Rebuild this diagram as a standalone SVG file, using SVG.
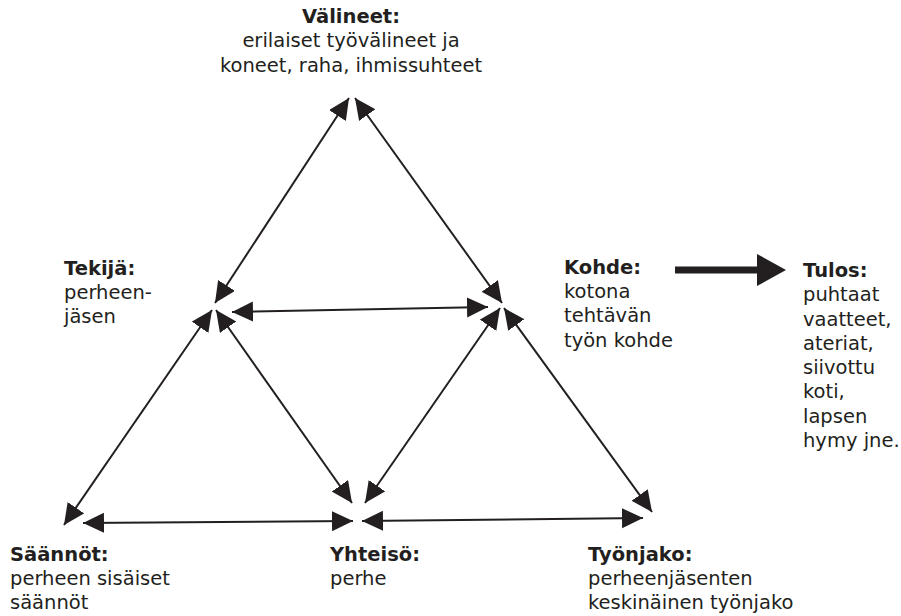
<svg xmlns="http://www.w3.org/2000/svg" width="901" height="616" viewBox="0 0 901 616">
<style>
text{font-family:"DejaVu Sans","Open Sans",sans-serif;font-size:19.5px;fill:#231f20}
.b{font-weight:bold}
.c{stroke:#231f20;stroke-width:2;fill:none;marker-start:url(#ah);marker-end:url(#ah)}
</style>
<defs>
<marker id="ah" markerUnits="userSpaceOnUse" markerWidth="24" markerHeight="22" refX="21" refY="10" orient="auto-start-reverse" viewBox="0 0 24 22">
<path d="M0,0 L21,10 L0,20 Z" fill="#231f20"/>
</marker>
</defs>
<rect width="901" height="616" fill="#fff"/>
<g id="connectors">
<line class="c" x1="215" y1="303" x2="349" y2="98"/>
<line class="c" x1="502" y1="303" x2="355" y2="98"/>
<line class="c" x1="232" y1="312" x2="488" y2="307"/>
<line class="c" x1="212" y1="310" x2="64" y2="525"/>
<line class="c" x1="216" y1="310" x2="352" y2="503"/>
<line class="c" x1="500" y1="308" x2="365" y2="503"/>
<line class="c" x1="504" y1="308" x2="652" y2="512"/>
<line class="c" x1="83" y1="523" x2="353" y2="521"/>
<line class="c" x1="362" y1="521" x2="643" y2="518"/>
<g id="tulos-arrow">
<line x1="675" y1="270" x2="760" y2="270" stroke="#231f20" stroke-width="7"/>
<polygon points="757,254 786,270 757,286" fill="#231f20"/>
</g>
</g>
<g id="valineet">
<text class="b" x="351" y="23" text-anchor="middle">Välineet:</text>
<text x="351" y="47" text-anchor="middle">erilaiset työvälineet ja</text>
<text x="351" y="72" text-anchor="middle">koneet, raha, ihmissuhteet</text>
</g>
<g id="tekija">
<text class="b" x="64" y="275">Tekijä:</text>
<text x="64" y="299">perheen-</text>
<text x="64" y="323">jäsen</text>
</g>
<g id="kohde">
<text class="b" x="564" y="274">Kohde:</text>
<text x="564" y="298">kotona</text>
<text x="564" y="322">tehtävän</text>
<text x="564" y="347">työn kohde</text>
</g>
<g id="tulos">
<text class="b" x="803" y="277">Tulos:</text>
<text x="803" y="301">puhtaat</text>
<text x="803" y="326">vaatteet,</text>
<text x="803" y="350">ateriat,</text>
<text x="803" y="374">siivottu</text>
<text x="803" y="398">koti,</text>
<text x="803" y="423">lapsen</text>
<text x="803" y="447">hymy jne.</text>
</g>
<g id="saannot">
<text class="b" x="10" y="561">Säännöt:</text>
<text x="10" y="585">perheen sisäiset</text>
<text x="10" y="609">säännöt</text>
</g>
<g id="yhteiso">
<text class="b" x="330" y="561">Yhteisö:</text>
<text x="330" y="585">perhe</text>
</g>
<g id="tyonjako">
<text class="b" x="588" y="561">Työnjako:</text>
<text x="588" y="585">perheenjäsenten</text>
<text x="588" y="609">keskinäinen työnjako</text>
</g>
</svg>
